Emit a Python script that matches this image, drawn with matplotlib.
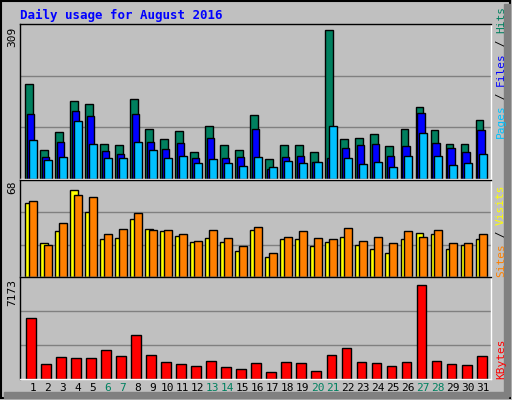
import matplotlib
matplotlib.use("Agg")
import matplotlib.pyplot as plt
from matplotlib.patches import Rectangle

days = list(range(1, 32))
weekend = [6, 7, 13, 14, 20, 21, 27, 28]
hits = [189,58,94,155,149,70,68,159,100,80,96,54,106,68,58,127,40,68,68,54,298,80,82,90,66,100,143,98,70,70,118]
files = [129,44,74,135,125,56,49,129,74,60,72,42,82,42,44,100,20,44,46,34,42,62,68,70,46,66,131,72,62,54,98]
pages = [78,38,44,116,70,42,42,74,58,42,46,32,40,32,26,44,24,36,32,34,106,42,30,34,24,46,92,46,28,32,50]
sites = [53.6,24.7,33,63,47,27.5,28,42,35,33,30,25.4,28,25.4,19,33.7,14.4,27.5,27.5,22.7,25.4,29,23.4,20.6,17,27.5,31.6,31,20,23.4,27.5]
visits = [55,23.4,39,59,58,31,35,46,33.7,33.7,31,26,33.7,28,22.7,36.4,17,29,33,28,27.5,35.7,26,29,24.7,33,29,33.7,24.7,24.7,31]
kbytes = [4660,1126,1675,1597,1597,2225,1754,3325,1833,1283,1126,969,1361,890,733,1204,497,1283,1204,576,1833,2382,1283,1204,969,1283,7173,1361,1126,1047,1754]

W, H = 512, 400
SLOT = 15.01
fig = plt.figure(figsize=(W/100, H/100), dpi=100)
fig.patch.set_facecolor('#C0C0C0')
bg = fig.add_axes([0, 0, 1, 1]); bg.set_xlim(0, W); bg.set_ylim(H, 0); bg.axis('off')
bg.add_patch(Rectangle((1, 1), W-3, H-3, fill=False, ec='black', lw=1.5))
bg.add_patch(Rectangle((W-8, 4), 6, H-8, color='#808080'))
bg.add_patch(Rectangle((4, H-8), W-8, 6, color='#808080'))

mono = 'DejaVu Sans Mono'
bg.text(20, 15, 'Daily usage for August 2016', color='#0000FF', fontsize=9, fontweight='bold', family=mono, va='center')

def panel(y0, y1, top):
    ax = fig.add_axes([20/W, 1 - y1/H, 471/W, (y1-y0)/H])
    ax.set_facecolor('#C0C0C0')
    ax.set_xlim(0, 471/SLOT); ax.set_ylim(0, top)
    ax.set_xticks([]); ax.set_yticks([])
    for g in (top/3, 2*top/3):
        ax.axhline(g, color='#808080', lw=1, zorder=0)
    for s in ax.spines.values():
        s.set_color('black'); s.set_linewidth(1)
    ax.spines['bottom'].set_color('white'); ax.spines['right'].set_color('white')
    return ax

x0 = [d - 1 for d in days]
a1 = panel(24, 179, 309*1.0)
a1.bar([x + 0.35 for x in x0], hits, 0.5, align='edge', color='#00805F', ec='black', lw=1)
a1.bar([x + 0.45 for x in x0], files, 0.5, align='edge', color='#0000FF', ec='black', lw=1)
a1.bar([x + 0.6 for x in x0], pages, 0.5, align='edge', color='#00C0FF', ec='black', lw=1)

a2 = panel(180, 277, 68*297/288)
a2.bar([x + 0.35 for x in x0], sites, 0.5, align='edge', color='#FFFF00', ec='black', lw=1)
a2.bar([x + 0.6 for x in x0], visits, 0.5, align='edge', color='#FF8000', ec='black', lw=1)

a3 = panel(277, 379, 7173*297/274)
a3.bar([x + 0.42 for x in x0], kbytes, 0.66, align='edge', color='#FF0000', ec='black', lw=1)

for d in days:
    xp = 20 + (d - 1 + 0.85) * SLOT
    bg.text(xp, 388, str(d), ha='center', va='center', fontsize=8, family=mono,
            color='#00805F' if d in weekend else 'black')

for t, y in (('309', 37), ('68', 187), ('7173', 293)):
    bg.text(12, y, t, rotation=90, ha='center', va='center', fontsize=8, family=mono)

def vlabel(parts, x, ybottom):
    y = ybottom
    for txt, col in parts:
        bg.text(x, y, txt, rotation=90, ha='center', va='bottom', fontsize=8, family=mono, color=col)
        y -= len(txt) * 6.3 + 1

vlabel([('Pages', '#00C0FF'), (' / ', 'black'), ('Files', '#0000FF'), (' / ', 'black'), ('Hits', '#00805F')], 501, 138)
vlabel([('Sites', '#FF8000'), (' / ', 'black'), ('Visits', '#FFFF00')], 501, 277)
vlabel([('KBytes', '#FF0000')], 501, 379)

fig.savefig('out.png', dpi=100, facecolor=fig.get_facecolor())
